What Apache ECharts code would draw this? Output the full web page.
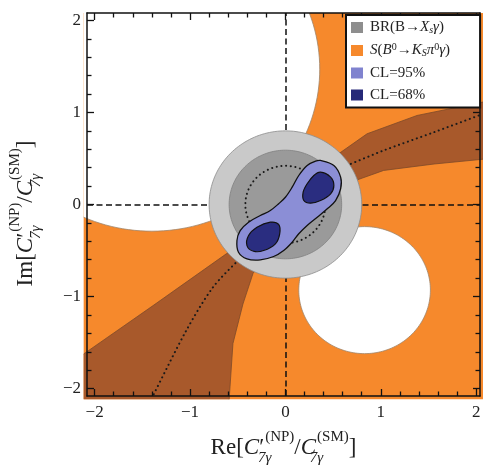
<!DOCTYPE html>
<html><head><meta charset="utf-8">
<script src="https://cdn.jsdelivr.net/npm/echarts@6/dist/echarts.min.js"></script>
<style>html,body{margin:0;padding:0;background:#fff}#c{width:483px;height:465px}</style>
</head><body><div id="c"></div>
<script>
// ---- axis ranges and ticks ----
const xRange = [-2.08, 2.04];
const yRange = [-2.08, 2.08];
const majorTicks = [-2, -1, 0, 1, 2];
const minorTicks = [-1.8, -1.6, -1.4, -1.2, -0.8, -0.6, -0.4, -0.2, 0.2, 0.4, 0.6, 0.8, 1.2, 1.4, 1.6, 1.8];
// extent of the shaded S region (slightly past the frame, as in the original)
const fillXExtent = [-2.115, 2.075];
const fillYExtent = [-2.115, 2.08];

// ---- S(B0 -> K_S pi0 gamma): excluded (white) discs [cx, cy, r] ----
const excludedDiscs = [[-1.40, 1.47, 1.76], [0.83, -0.93, 0.69]];
// darker 68% band of S, two visible pieces
const sBandLowerLeft = [[-2.2, -2.2], [-2.2, -1.685], [-1.39, -1.10], [-0.62, -0.536], [-0.30, -0.30],
  [-0.22, -0.55], [-0.34, -0.75], [-0.445, -1.08], [-0.55, -1.51], [-0.595, -2.2]];
const sBandUpperRight = [[0.30, 0.30], [0.558, 0.551], [0.856, 0.768], [1.38, 0.967], [2.2, 1.14],
  [2.2, 0.505], [1.56, 0.44], [1.03, 0.37], [0.733, 0.26], [0.40, 0.12]];
// S central value (dotted)
const sCentralLowerLeft = [[-0.42, -0.53], [-0.48, -0.59], [-0.76, -0.90], [-1.04, -1.37], [-1.39, -2.08], [-1.43, -2.16]];
const sCentralUpperRight = [[0.55, 0.385], [0.645, 0.424], [1.03, 0.587], [1.56, 0.786], [2.1, 0.995]];

// ---- BR(B -> X_s gamma) discs [cx, cy, r] ----
const brOuter = [0, 0, 0.80];
const brInner = [0, 0, 0.59];
const brCentral = [0, 0, 0.42];

// ---- combined fit contours ----
const cl95 = [[0.368, 0.478], [0.508, 0.424], [0.579, 0.297], [0.579, 0.171], [0.526, 0.043], [0.439, -0.047],
  [0.334, -0.138], [0.228, -0.228], [0.140, -0.318], [0.071, -0.410], [-0.018, -0.50], [-0.123, -0.565],
  [-0.263, -0.601], [-0.403, -0.590], [-0.492, -0.518], [-0.508, -0.391], [-0.474, -0.283], [-0.386, -0.192],
  [-0.263, -0.120], [-0.158, -0.065], [-0.071, 0.008], [0.0, 0.079], [0.071, 0.188], [0.140, 0.315],
  [0.228, 0.424], [0.316, 0.471]];
const cl68Upper = [[0.368, 0.351], [0.474, 0.297], [0.508, 0.207], [0.474, 0.116], [0.368, 0.043],
  [0.263, 0.014], [0.193, 0.043], [0.186, 0.134], [0.228, 0.225], [0.298, 0.315]];
const cl68Lower = [[-0.158, -0.192], [-0.071, -0.217], [-0.06, -0.318], [-0.105, -0.427], [-0.228, -0.50],
  [-0.334, -0.508], [-0.403, -0.446], [-0.386, -0.337], [-0.298, -0.247]];

const refLines = { x: 0, y: 0 };

// ---- colours ----
const C = {
  orange: '#F6892C', brown: '#A8592B', grayLight: '#C9C9C9', grayDark: '#9A9A9A',
  blueLight: '#8B8ED6', blueDark: '#2A2D80', text: '#222'
};

function discPoints(d) {
  const pts = [], n = 180;
  for (let k = 0; k < n; k++) {
    const a = 2 * Math.PI * k / n;
    pts.push([d[0] + d[2] * Math.cos(a), d[1] + d[2] * Math.sin(a)]);
  }
  return pts;
}

function shapeSeries(name, shapes, style, z, opts) {
  opts = opts || {};
  return {
    type: 'custom', name: name, coordinateSystem: 'cartesian2d', z: z, silent: true, animation: false,
    itemStyle: { color: opts.legendColor || style.fill || '#000' },
    data: shapes.map(() => [0, 0]),
    renderItem: function (params, api) {
      const pts = shapes[params.dataIndex].map(p => api.coord(p));
      const el = opts.line
        ? { type: 'polyline', shape: { points: pts.concat([pts[0]]) }, style: style }
        : { type: 'polygon', shape: { points: pts, smooth: opts.smooth || 0 }, style: style };
      if (!opts.clip) return el;
      const a = api.coord([fillXExtent[0], fillYExtent[1]]);
      const b = api.coord([fillXExtent[1], fillYExtent[0]]);
      return { type: 'group', children: [el],
        clipPath: { type: 'rect', shape: { x: a[0], y: a[1], width: b[0] - a[0], height: b[1] - a[1] } } };
    }
  };
}

const fillRect = [[fillXExtent[0], fillYExtent[0]], [fillXExtent[1], fillYExtent[0]],
  [fillXExtent[1], fillYExtent[1]], [fillXExtent[0], fillYExtent[1]]];

const fmt = v => (v < 0 ? '\u2212' + Math.abs(v) : String(v));
const FONT = 'Liberation Serif';
const axisLineMain = { show: true, onZero: false, lineStyle: { color: '#111', width: 1.5 } };
const axisLineOff = { show: false, onZero: false };
const tickStyle = { color: '#111', width: 1.3 };

const nameRich = {
  t: { fontFamily: FONT, fontSize: 23, color: C.text, lineHeight: 36 },
  i: { fontFamily: FONT, fontSize: 23, fontStyle: 'italic', color: C.text, lineHeight: 36 },
  sb: { fontFamily: FONT, fontSize: 15, fontStyle: 'italic', color: C.text, lineHeight: 15, verticalAlign: 'bottom', width: 1 },
  sp: { fontFamily: FONT, fontSize: 15, color: C.text, lineHeight: 15, verticalAlign: 'top' }
};
const xName = '{t|Re[}{i|C}{t|\u2032}{sb|7\u03b3}{sp|(NP)}{t|/}{i|C}{sb|7\u03b3}{sp|(SM)}{t|]}';
const yName = '{t|Im[}{i|C}{t|\u2032}{sb|7\u03b3}{sp|(NP)}{t|/}{i|C}{sb|7\u03b3}{sp|(SM)}{t|]}';

function xAxisDef(pos, ticks, len, main) {
  return {
    type: 'value', position: pos, min: xRange[0], max: xRange[1], z: 50,
    axisLine: main ? axisLineMain : axisLineOff,
    axisTick: { show: true, inside: true, length: len, customValues: ticks, lineStyle: tickStyle },
    axisLabel: (main && pos === 'bottom') ? { show: true, customValues: majorTicks, formatter: fmt, margin: 8,
      fontFamily: FONT, fontSize: 17, color: C.text } : { show: false },
    splitLine: { show: false },
    name: (main && pos === 'bottom') ? xName : '', nameLocation: 'middle', nameGap: 34,
    nameTextStyle: { rich: nameRich }
  };
}
function yAxisDef(pos, ticks, len, main) {
  return {
    type: 'value', position: pos, min: yRange[0], max: yRange[1], z: 50,
    axisLine: main ? axisLineMain : axisLineOff,
    axisTick: { show: true, inside: true, length: len, customValues: ticks, lineStyle: tickStyle },
    axisLabel: (main && pos === 'left') ? { show: true, customValues: majorTicks, formatter: fmt, margin: 6,
      fontFamily: FONT, fontSize: 17, color: C.text } : { show: false },
    splitLine: { show: false },
    name: (main && pos === 'left') ? yName : '', nameLocation: 'middle', nameGap: 43, nameRotate: 90,
    nameTextStyle: { rich: nameRich, padding: [0, 18, 0, 0] }
  };
}

const legendRich = {
  t: { fontFamily: FONT, fontSize: 15, color: C.text, lineHeight: 16 },
  ti: { fontFamily: FONT, fontSize: 15, fontStyle: 'italic', color: C.text, lineHeight: 16 },
  sb: { fontFamily: FONT, fontSize: 10, fontStyle: 'italic', color: C.text, lineHeight: 10, verticalAlign: 'bottom' },
  sp: { fontFamily: FONT, fontSize: 10, color: C.text, lineHeight: 10, verticalAlign: 'top' }
};
const legendLabels = {
  BR: '{t|BR(B\u2192}{ti|X}{sb|s}{ti|\u03b3}{t|)}',
  S: '{ti|S}{t|(}{ti|B}{sp|0}{t|\u2192}{ti|K}{sb|S}{ti|\u03c0}{sp|0}{ti|\u03b3}{t|)}',
  CL95: '{t|CL=95%}',
  CL68: '{t|CL=68%}'
};

const solidThin = (fill, stroke, w) => ({ fill: fill, stroke: stroke, lineWidth: w });
const dotted = { stroke: '#1a1a1a', fill: null, lineWidth: 2, lineDash: [0.1, 4.6], lineCap: 'round' };

const option = {
  animation: false,
  grid: { left: 87, right: 3, top: 13, bottom: 69, containLabel: false, outerBoundsMode: 'none' },
  xAxis: [xAxisDef('bottom', majorTicks, 7, true), xAxisDef('bottom', minorTicks, 4.5, false),
    xAxisDef('top', majorTicks, 7, true), xAxisDef('top', minorTicks, 4.5, false)],
  yAxis: [yAxisDef('left', majorTicks, 7, true), yAxisDef('left', minorTicks, 4.5, false),
    yAxisDef('right', majorTicks, 7, true), yAxisDef('right', minorTicks, 4.5, false)],
  legend: {
    orient: 'vertical', left: 346, top: 15, z: 60,
    data: ['BR', 'S', 'CL95', 'CL68'],
    icon: 'rect', itemWidth: 12, itemHeight: 11, itemGap: 7,
    padding: [5, 30, 5, 5],
    backgroundColor: '#fff', borderColor: '#111', borderWidth: 2, borderRadius: 0,
    selectedMode: false,
    formatter: n => legendLabels[n],
    textStyle: { rich: legendRich, padding: [0, 0, 0, 2] }
  },
  series: [
    shapeSeries('S', [fillRect], solidThin(C.orange, null, 0), 2),
    shapeSeries('sBand', [sBandLowerLeft, sBandUpperRight], solidThin(C.brown, '#7d4a2a', 0.8), 3, { clip: true }),
    shapeSeries('excluded', excludedDiscs.map(discPoints), solidThin('#ffffff', '#a08468', 0.8), 4, { clip: true }),
    { type: 'line', name: 'sCentral1', z: 5, data: sCentralLowerLeft, smooth: 0.3, symbol: 'none', silent: true,
      lineStyle: { color: '#1a1a1a', width: 2, type: [0.1, 4.6], cap: 'round' } },
    { type: 'line', name: 'sCentral2', z: 5, data: sCentralUpperRight, smooth: 0.3, symbol: 'none', silent: true,
      lineStyle: { color: '#1a1a1a', width: 2, type: [0.1, 4.6], cap: 'round' } },
    shapeSeries('brOuter', [discPoints(brOuter)], solidThin(C.grayLight, '#8c8c8c', 0.8), 6),
    shapeSeries('BR', [discPoints(brInner)], solidThin(C.grayDark, '#808080', 0.8), 7, { legendColor: '#8e8e8e' }),
    shapeSeries('brCentral', [discPoints(brCentral)], dotted, 8, { line: true }),
    shapeSeries('CL95', [cl95], solidThin(C.blueLight, '#111', 1.3), 9, { smooth: 0.35, legendColor: '#8083CF' }),
    shapeSeries('CL68', [cl68Upper, cl68Lower], solidThin(C.blueDark, '#111', 1.2), 10, { smooth: 0.35, legendColor: '#262978' }),
    { type: 'line', name: 'refs', z: 11, data: [], silent: true,
      markLine: { symbol: 'none', silent: true, animation: false, label: { show: false },
        lineStyle: { color: '#111', width: 1.5, type: [6, 3.5] },
        data: [{ xAxis: refLines.x }, { yAxis: refLines.y }] } }
  ]
};

const chart = echarts.init(document.getElementById('c'), null, { renderer: 'canvas' });
chart.setOption(option);
</script></body></html>
